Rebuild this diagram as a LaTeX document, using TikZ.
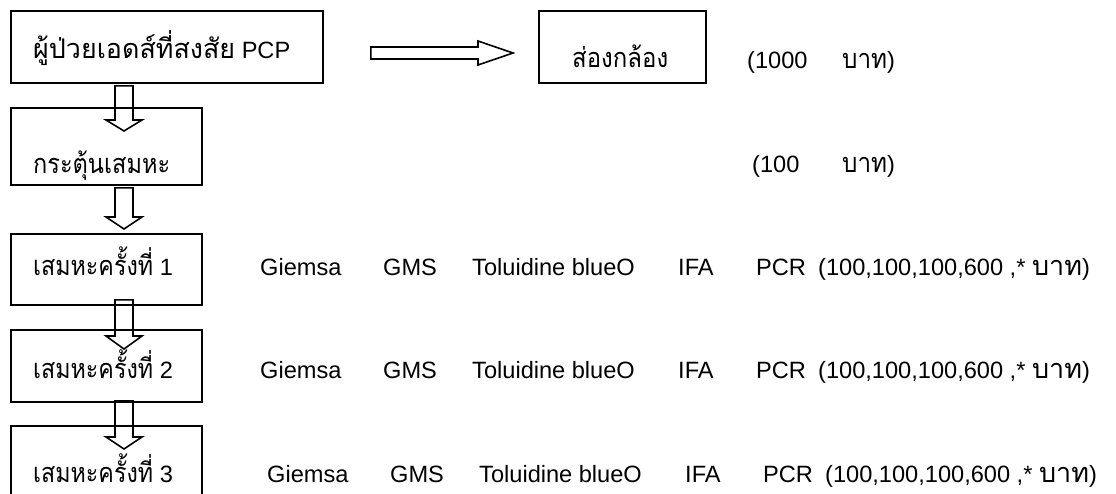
\documentclass[tikz,border=0pt]{standalone}
\usepackage{fontspec}
\usepackage{graphicx}
\setmainfont{Liberation Sans}
\newfontfamily\thaifont[Script=Thai,Scale=1.15]{Loma}
\usetikzlibrary{calc}
\newlength\fitlen
\newcommand\thw[2]{\settowidth\fitlen{\thaifont #2}\pgfmathsetmacro\fitfac{#1/\fitlen}\scalebox{\fitfac}[1]{\thaifont #2}}
\newcommand\downblk[5]{% from, to, top offset, head offset, tip offset
  \draw[blk] ($(#1.south west)+(105,#3)$) -- ($(#2.north west)+(105,#4)$) -- ++(-9,0)
    -- ($(#2.north west)+(114,#5)$) -- ($(#2.north west)+(132,#4)$) -- ++(-9,0)
    -- ($(#1.south west)+(123,#3)$) -- cycle;}
\begin{document}
\begin{tikzpicture}[x=1pt,y=-1pt,
  box/.style={draw, line width=1.8pt, inner sep=0pt, anchor=north west},
  lbl/.style={inner sep=0pt, anchor=base west, font=\fontsize{23.6}{28}\selectfont},
  blk/.style={draw, line width=1.6pt, line join=miter}]
\useasboundingbox (0,0) rectangle (1116,493);
\clip (0,0) rectangle (1116,493);
% boxes
\node[box, minimum width=312pt, minimum height=72pt] (b1) at (10,10) {};
\node[box, minimum width=191pt, minimum height=77pt] (b2) at (10,107) {};
\node[box, minimum width=191pt, minimum height=71pt] (b3) at (10,233) {};
\node[box, minimum width=191pt, minimum height=72pt] (b4) at (10,329) {};
\node[box, minimum width=191pt, minimum height=90pt] (b5) at (10,425) {};
\node[box, minimum width=167pt, minimum height=72pt] (b6) at (538,10) {};
% box texts
\node[lbl] (t1) at (33,58) {\thw{202}{ผู้ป่วยเอดส์ที่สงสัย} PCP};
\node[lbl] (t2) at (33,173) {\thw{137}{กระตุ้นเสมหะ}};
\node[lbl] (t3) at (33,275) {\thw{120}{เสมหะครั้งที่} 1};
\node[lbl] (t4) at (33,378) {\thw{120}{เสมหะครั้งที่} 2};
\node[lbl] (t5) at (33,482) {\thw{120}{เสมหะครั้งที่} 3};
\node[lbl] (t6) at (572,67) {\thw{96}{ส่องกล้อง}};
% prices
\node[lbl] (p1a) at (747,68) {(1000};
\node[lbl] (p1b) at (842,68) {\thw{45}{บาท})};
\node[lbl] (p2a) at (752,172) {(100};
\node[lbl] (p2b) at (842,172) {\thw{45}{บาท})};
% test rows
\foreach \r/\y/\dx in {1/275/0, 2/378/0, 3/482/7}{
  \node[lbl] (g\r) at (260+\dx,\y) {Giemsa};
  \node[lbl] (m\r) at (383+\dx,\y) {GMS};
  \node[lbl] (o\r) at (472+\dx,\y) {Toluidine blueO};
  \node[lbl] (i\r) at (678+\dx,\y) {IFA};
  \node[lbl] (c\r) at (756+\dx,\y) {PCR};
  \node[lbl] (q\r) at (818+\dx,\y) {(100,100,100,600 ,* \thw{50}{บาท})};
}
% block arrows
\downblk{b1}{b2}{2}{13}{24}
\downblk{b2}{b3}{2}{-16}{-4}
\downblk{b3}{b4}{-6}{7}{20}
\downblk{b4}{b5}{-2}{12}{24}
\draw[blk] ($(b1.north east)+(47,37)$) -- ($(b6.north west)+(-60,37)$) -- ++(0,-6)
  -- ($(b6.north west)+(-25,43)$) -- ($(b6.north west)+(-60,55)$) -- ++(0,-6)
  -- ($(b1.north east)+(47,49)$) -- cycle;
\end{tikzpicture}
\end{document}
